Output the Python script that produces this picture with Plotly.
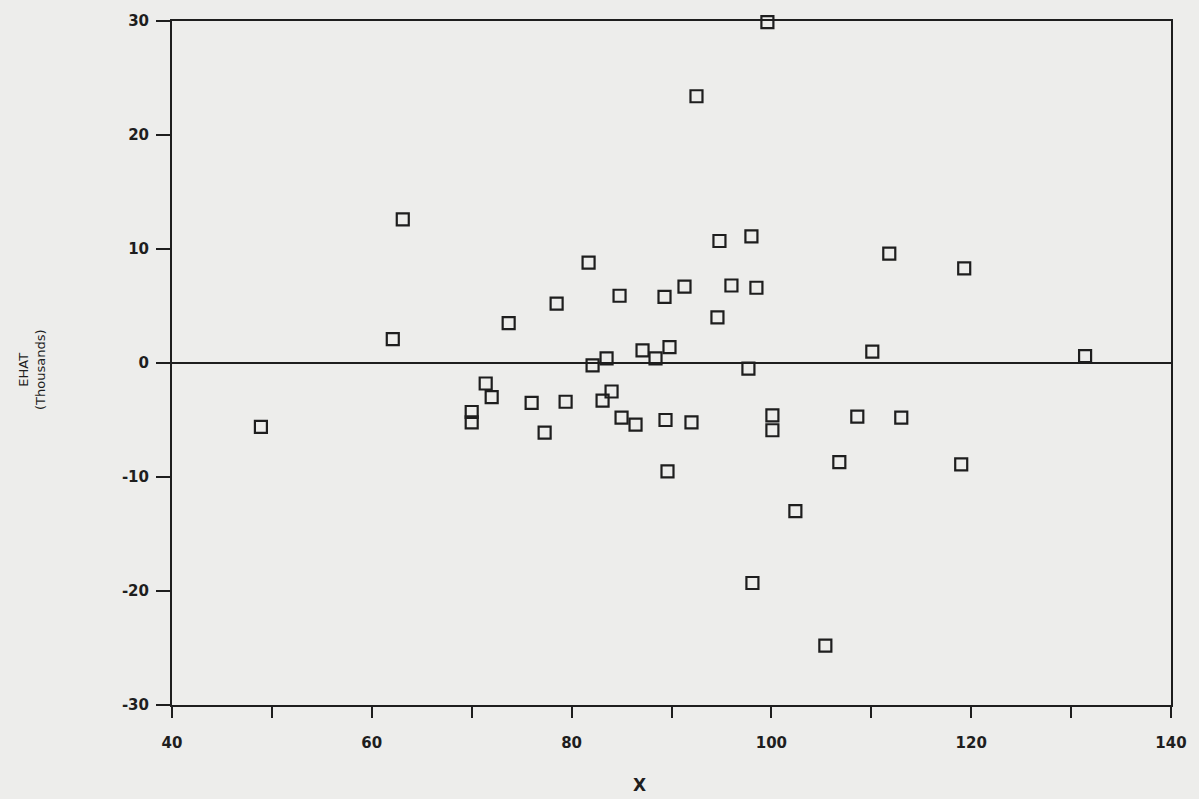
import plotly.graph_objects as go

# Data (X vs EHAT residuals, in thousands)
x_vals = [48.9, 62.1, 63.1, 70.0, 70.0, 71.4, 72.0, 73.7, 76.0, 77.3,
          78.5, 79.4, 81.7, 82.1, 83.5, 83.1, 84.0, 84.8, 85.0, 86.4,
          87.1, 88.4, 89.8, 89.3, 89.4, 89.6, 91.3, 92.0, 92.5, 94.8,
          94.6, 96.0, 98.0, 98.5, 97.7, 99.6, 98.1, 100.1, 100.1, 102.4,
          105.4, 106.8, 108.6, 110.1, 111.8, 113.0, 119.0, 119.3, 131.4]
ehat_vals = [-5.6, 2.1, 12.6, -4.3, -5.2, -1.8, -3.0, 3.5, -3.5, -6.1,
             5.2, -3.4, 8.8, -0.2, 0.4, -3.3, -2.5, 5.9, -4.8, -5.4,
             1.1, 0.4, 1.4, 5.8, -5.0, -9.5, 6.7, -5.2, 23.4, 10.7,
             4.0, 6.8, 11.1, 6.6, -0.5, 29.9, -19.3, -4.6, -5.9, -13.0,
             -24.8, -8.7, -4.7, 1.0, 9.6, -4.8, -8.9, 8.3, 0.6]

x_ticks = [40, 50, 60, 70, 80, 90, 100, 110, 120, 130, 140]
x_tick_text = ["40", "", "60", "", "80", "", "100", "", "120", "", "140"]
y_ticks = [-30, -20, -10, 0, 10, 20, 30]
y_tick_text = ["-30", "-20", "-10", "0", "10", "20", "30"]

ink = "#1e1e1e"
paper = "#ededeb"
tick_font = dict(family="DejaVu Sans", size=15, color=ink, weight="bold")

fig = go.Figure()
fig.add_trace(go.Scatter(
    x=x_vals, y=ehat_vals, mode="markers",
    marker=dict(symbol="square-open", size=12, color=ink,
                line=dict(width=2.2, color=ink)),
    cliponaxis=False, showlegend=False,
))

fig.update_layout(
    width=1199, height=799,
    margin=dict(l=172, r=26, t=20, b=94),
    paper_bgcolor=paper, plot_bgcolor=paper,
    xaxis=dict(range=[40, 140], tickvals=x_ticks, ticktext=x_tick_text,
               ticks="outside", ticklen=11, tickwidth=2, tickcolor=ink,
               showline=True, linewidth=2, linecolor=ink, mirror=True,
               showgrid=False, zeroline=False, tickfont=tick_font,
               ticklabelstandoff=12),
    yaxis=dict(range=[-30, 30], tickvals=y_ticks, ticktext=y_tick_text,
               ticks="outside", ticklen=14, tickwidth=2, tickcolor=ink,
               showline=True, linewidth=2, linecolor=ink, mirror=True,
               showgrid=False, zeroline=True, zerolinecolor=ink,
               zerolinewidth=2, tickfont=tick_font, ticklabelstandoff=4),
    annotations=[
        dict(text="EHAT<br>(Thousands)", xref="paper", yref="paper",
             x=-0.14, y=0.49, xanchor="center", yanchor="middle",
             textangle=-90, showarrow=False,
             font=dict(family="DejaVu Sans", size=13, color=ink)),
        dict(text="X", xref="paper", yref="paper",
             x=0.468, y=-0.117, xanchor="center", yanchor="middle",
             showarrow=False,
             font=dict(family="DejaVu Sans", size=17, color=ink, weight="bold")),
    ],
)

fig.write_html("out.html",
               config={"displayModeBar": False},
               post_script="document.body.style.margin='0';document.body.style.background='#ededeb';")
